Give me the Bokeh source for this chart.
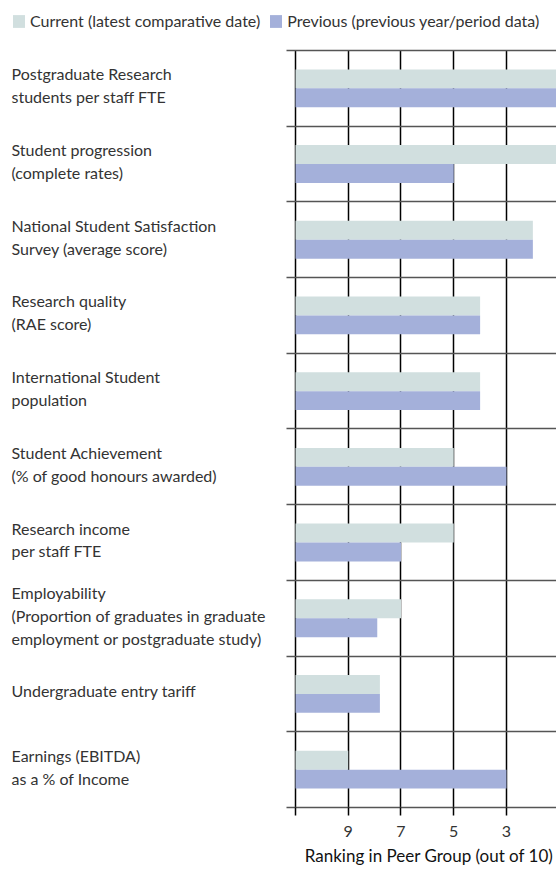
from bokeh.plotting import figure
from bokeh.models import (Range1d, FixedTicker, Grid, Legend, LegendItem, Title,
                          ColumnDataSource)
from bokeh.core.properties import value
from bokeh.embed import file_html
from bokeh.resources import INLINE

# ---- data -------------------------------------------------------------
categories = [
    "Postgraduate Research\nstudents per staff FTE",
    "Student progression\n(complete rates)",
    "National Student Satisfaction\nSurvey (average score)",
    "Research quality\n(RAE score)",
    "International Student\npopulation",
    "Student Achievement\n(% of good honours awarded)",
    "Research income\nper staff FTE",
    "Employability\n(Proportion of graduates in graduate\nemployment or postgraduate study)",
    "Undergraduate entry tariff",
    "Earnings (EBITDA)\nas a % of Income",
]
current = [1, 1, 2, 4, 4, 5, 5, 7, 7.8, 9]
previous = [1, 5, 2, 4, 4, 3, 7, 7.9, 7.8, 3]
tick_values = [11, 9, 7, 5, 3]
tick_labels = {11: "", 9: "9", 7: "7", 5: "5", 3: "3"}
series_names = ["Current (latest comparative date)",
                "Previous (previous year/period data)"]
x_title = "Ranking in Peer Group (out of 10)"

# ---- layout constants -------------------------------------------------
FONT = "Lato"
BASE = 11            # worst rank: bars start here
X_LEFT = 22.185      # data value at the left canvas edge
X_RIGHT = 1.104      # data value at the right canvas edge
AXIS_LEFT = 11.341   # where separators / axis line start
LABEL_X = 21.768
LABEL_DY = 0.04
Y_TOP = 10.66
BAR_H = 0.25

n = len(categories)
centers = [n - 0.5 - i for i in range(n)]
src = ColumnDataSource(dict(
    label=categories,
    y_cur=[c + BAR_H / 2 for c in centers],
    y_prev=[c - BAR_H / 2 for c in centers],
    yc=[c + LABEL_DY for c in centers],
    current=current,
    previous=previous,
    base=[BASE] * n,
    lx=[LABEL_X] * n,
))

p = figure(frame_width=556, frame_height=807,
           x_range=Range1d(X_LEFT, X_RIGHT), y_range=Range1d(0, Y_TOP),
           y_axis_location=None, toolbar_location=None,
           output_backend="svg", min_border=0, outline_line_color=None)
p.background_fill_color = "white"

# axis
ax = p.xaxis[0]
ax.ticker = FixedTicker(ticks=tick_values)
ax.major_label_overrides = tick_labels
ax.bounds = (X_RIGHT, AXIS_LEFT)
ax.axis_line_color = "#555555"
ax.axis_line_width = 1.5
ax.major_tick_line_color = "black"
ax.major_tick_line_width = 1.5
ax.major_tick_out = 8
ax.major_tick_in = 0
ax.minor_tick_line_color = None
ax.major_label_standoff = 10
ax.major_label_text_font = FONT
ax.major_label_text_font_size = "16px"
ax.major_label_text_color = "#333333"

# vertical grid (black)
p.xgrid.ticker = FixedTicker(ticks=tick_values)
p.xgrid.grid_line_color = "black"
p.xgrid.grid_line_width = 1.5
p.xgrid.cross_bounds = (0, n)

# remove default horizontal grid, add category separators
for g in p.ygrid:
    g.visible = False
yg = Grid(dimension=1, ticker=FixedTicker(ticks=list(range(0, n + 1))),
          cross_bounds=(X_RIGHT, AXIS_LEFT),
          grid_line_color="#555555", grid_line_width=1.5)
p.add_layout(yg)

# bars
r_cur = p.hbar(y="y_cur", left="base", right="current", height=BAR_H,
               source=src, fill_color="#d1dfdf", line_color=None)
r_prev = p.hbar(y="y_prev", left="base", right="previous", height=BAR_H,
                source=src, fill_color="#a4b0da", line_color=None)

# category labels
p.text(x="lx", y="yc", text="label", source=src, text_align="left",
       text_baseline="middle", text_font=value(FONT), text_font_size="16px",
       text_color="#333333", text_line_height=1.2)

legend = Legend(items=[LegendItem(label=series_names[0], renderers=[r_cur]),
                       LegendItem(label=series_names[1], renderers=[r_prev])],
                orientation="horizontal", location="top_left",
                margin=11, padding=0, spacing=8, label_standoff=4,
                glyph_width=15, glyph_height=16, label_height=16,
                label_text_font=FONT, label_text_font_size="16px",
                label_text_color="#333333",
                border_line_color=None, background_fill_alpha=0)
p.add_layout(legend)

p.add_layout(Title(text=x_title, align="right", text_font=FONT,
                   text_font_size="17px", text_font_style="normal",
                   text_color="#111111", standoff=7, offset=3), "below")

open("out.html", "w").write(file_html(p, INLINE))
